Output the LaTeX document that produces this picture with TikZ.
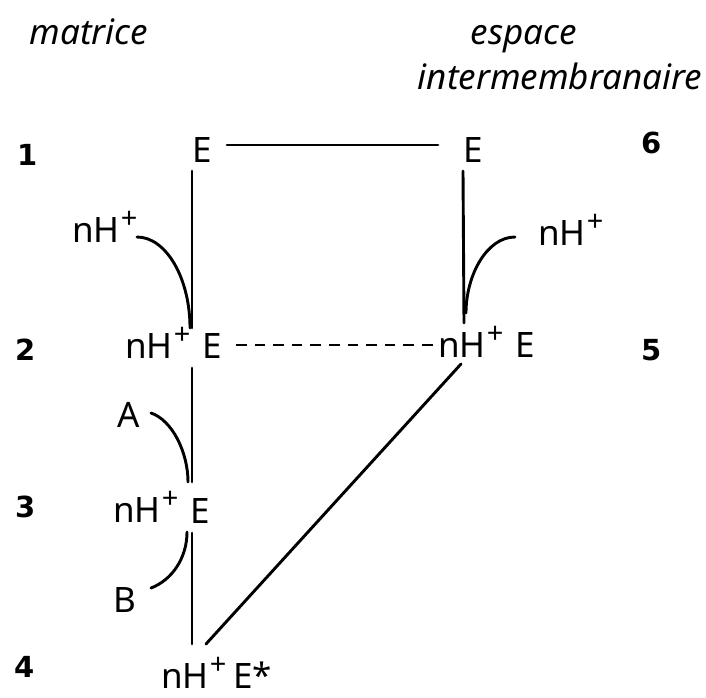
\documentclass[tikz,border=0pt]{standalone}
\usepackage{fontspec}
\setmainfont{Noto Sans}
\newfontfamily\numfont{DejaVu Sans}[BoldFont={DejaVu Sans Bold}]
\newcommand{\plusup}{\hspace{1pt}\raisebox{0.40em}{\fontsize{29}{29}\selectfont +}}
\begin{document}
\begin{tikzpicture}[x=1pt,y=-1pt,
  txt/.style={inner sep=0pt, anchor=base west, font=\fontsize{35}{40}\selectfont},
  num/.style={inner sep=0pt, anchor=base west, font=\fontsize{29}{34}\selectfont\numfont\bfseries},
  ttl/.style={inner sep=0pt, anchor=base, font=\fontsize{35}{40}\selectfont\itshape},
  conn/.style={line width=2.9pt, line cap=round},
  dconn/.style={line width=2.9pt, dash pattern=on 10.6pt off 8pt}]
\useasboundingbox (0,0) rectangle (706,697);
% titles
\node[ttl] (mat) at (89,44) {matrice};
\node[ttl] (esp) at (524,44) {espace};
\node[ttl] (inter) at (560,89) {intermembranaire};
% numbers
\node[num] (n1) at (17,165) {1};
\node[num] (n2) at (15,360) {2};
\node[num] (n3) at (15,517) {3};
\node[num] (n4) at (14,677) {4};
\node[num] (n6) at (641,153) {6};
\node[num] (n5) at (641,360) {5};
% species
\node[txt] (e1) at (192,162) {E};
\node[txt] (e6) at (463,162) {E};
\node[txt] (h2) at (125,358) {nH\plusup};
\node[txt] (e2) at (202,358) {E};
\node[txt] (h5) at (438,357) {nH\plusup};
\node[txt] (e5) at (515,357) {E};
\node[txt] (h3) at (113,522) {nH\plusup};
\node[txt] (e3) at (190,523) {E};
\node[txt] (h4) at (161,688) {nH\plusup};
\node[txt] (e4) at (233,688) {E*};
\node[txt] (hA) at (72,242) {nH\plusup};
\node[txt] (hB) at (538,245) {nH\plusup};
\node[txt] (A) at (117,427) {A};
\node[txt] (B) at (113,612) {B};
% junction points
\coordinate (hl1) at (227,145);
\coordinate (hl6) at (438,145);
\coordinate (t1) at (192,171);
\coordinate (j2) at (192,328);
\coordinate (t6) at (463,171);
\coordinate (j5) at (464,323);
\coordinate (dl2) at (236,345);
\coordinate (dl5) at (433,345);
\coordinate (s2) at (192,368);
\coordinate (j3) at (192,482);
\coordinate (s3) at (192,533);
\coordinate (j4) at (192,644);
\coordinate (d4) at (206,644);
\coordinate (d5) at (461,364);
\coordinate (cA) at (137,237);
\coordinate (cB) at (515,237);
\coordinate (cAa) at (151,413);
\coordinate (cBb) at (151,588);
% connectors
\draw[conn] (hl1) -- (hl6);
\draw[conn] (t1) -- (j2);
\draw[conn] (t6) -- (j5);
\draw[dconn] (dl2) -- (dl5);
\draw[conn] (s2) -- (j3);
\draw[conn] (s3) -- (j4);
\draw[conn] (d4) -- (d5);
\draw[conn] (cA) .. controls (166,237) and (190,278) .. (190,328);
\draw[conn] (cB) .. controls (487,237) and (466,275) .. (466,313);
\draw[conn] (cAa) .. controls (172,420) and (188,452) .. (188,482);
\draw[conn] (cBb) .. controls (172,580) and (187,558) .. (187,532);
\end{tikzpicture}
\end{document}
